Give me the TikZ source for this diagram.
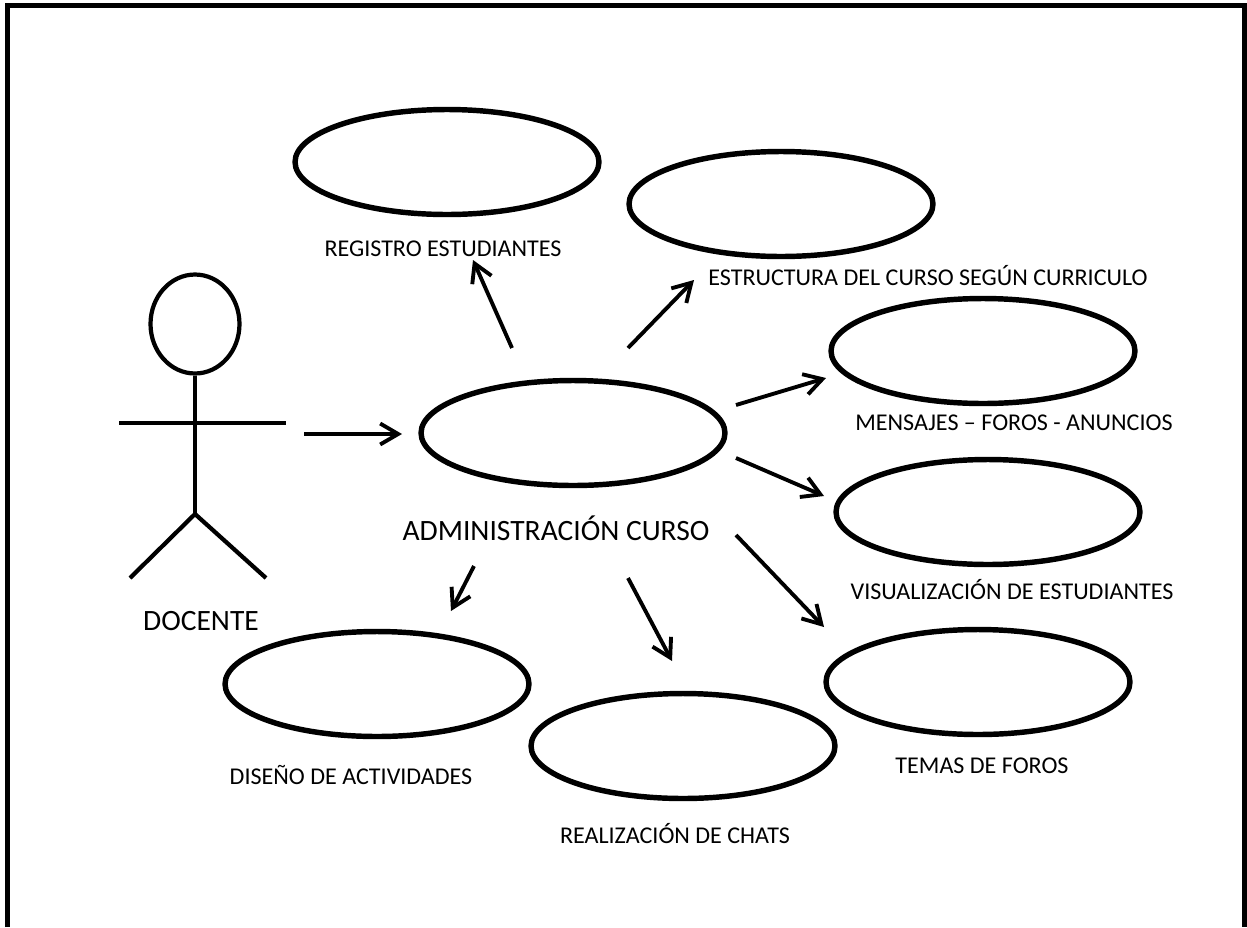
\documentclass[tikz,border=0pt]{standalone}
\usepackage{fontspec}
\setmainfont{Carlito}
\usetikzlibrary{arrows, arrows.meta}
\usetikzlibrary{shapes.geometric}
\tikzset{
  usecase/.style={ellipse, draw, line width=3.1pt, inner sep=0pt, minimum width=6.08cm, minimum height=2.1cm},
  smalllabel/.style={inner sep=0pt, font=\fontsize{13.7}{16}\selectfont},
  biglabel/.style={inner sep=0pt, font=\fontsize{16.8}{20}\selectfont},
  actorline/.style={line width=2.4pt},
  flow/.style={line width=2.2pt, -{Straight Barb[length=3.6mm, width=4.2mm, line width=2.2pt]}}
}
\begin{document}
\begin{tikzpicture}[x=0.02cm, y=-0.02cm]
      \useasboundingbox (0,0) rectangle (1247,927);
      \draw[line width=2.8pt] (7.5,927) -- (7.5,5.5) -- (1244.5,5.5) -- (1244.5,927);

      \node[usecase] (registro) at (447,162) {};
      \node[usecase] (estructura) at (781,204) {};
      \node[usecase] (mensajes) at (983,351) {};
      \node[usecase] (visualizacion) at (988,512) {};
      \node[usecase] (temas) at (978,682) {};
      \node[usecase] (realizacion) at (683,746) {};
      \node[usecase] (diseno) at (377,684) {};
      \node[usecase] (admin) at (573,433) {};

      \node[smalllabel] (lregistro) at (443,249) {REGISTRO ESTUDIANTES};
      \node[smalllabel] (lestructura) at (928,276) {ESTRUCTURA DEL CURSO SEGÚN CURRICULO};
      \node[smalllabel] (lmensajes) at (1014,423) {MENSAJES – FOROS - ANUNCIOS};
      \node[smalllabel] (lvisualizacion) at (1012,590) {VISUALIZACIÓN DE ESTUDIANTES};
      \node[smalllabel] (ltemas) at (982,766) {TEMAS DE FOROS};
      \node[smalllabel] (lrealizacion) at (675,834) {REALIZACIÓN DE CHATS};
      \node[smalllabel] (ldiseno) at (351,775) {DISEÑO DE ACTIVIDADES};
      \node[biglabel] (ladmin) at (556,528) {ADMINISTRACIÓN CURSO};
      \node[biglabel] (ldocente) at (201,621) {DOCENTE};

      \node[ellipse, draw, actorline, inner sep=0pt, minimum width=1.78cm, minimum height=1.98cm] (head) at (195,324) {};
      \coordinate (hip) at (195,514);
      \coordinate (armL) at (119,423);
      \coordinate (armR) at (286,423);
      \coordinate (footL) at (130,578);
      \coordinate (footR) at (266,578);
      \draw[actorline] (head.south) -- (hip);
      \draw[actorline] (armL) -- (armR);
      \draw[actorline] (footL) -- (hip) -- (footR);

      \coordinate (a0) at (304,434);
      \coordinate (a1) at (402,434);
      \coordinate (b0) at (512,348);
      \coordinate (b1) at (473,260);
      \coordinate (c0) at (628,348);
      \coordinate (c1) at (694,280);
      \coordinate (d0) at (736,405);
      \coordinate (d1) at (826,378);
      \coordinate (e0) at (736,458);
      \coordinate (e1) at (824,496);
      \coordinate (f0) at (736,535);
      \coordinate (f1) at (824,627);
      \coordinate (g0) at (628,578);
      \coordinate (g1) at (672,661);
      \coordinate (h0) at (474,566);
      \coordinate (h1) at (451,611);
      \draw[flow] (a0) -- (a1);
      \draw[flow] (b0) -- (b1);
      \draw[flow] (c0) -- (c1);
      \draw[flow] (d0) -- (d1);
      \draw[flow] (e0) -- (e1);
      \draw[flow] (f0) -- (f1);
      \draw[flow] (g0) -- (g1);
      \draw[flow] (h0) -- (h1);
    \end{tikzpicture}
\end{document}
